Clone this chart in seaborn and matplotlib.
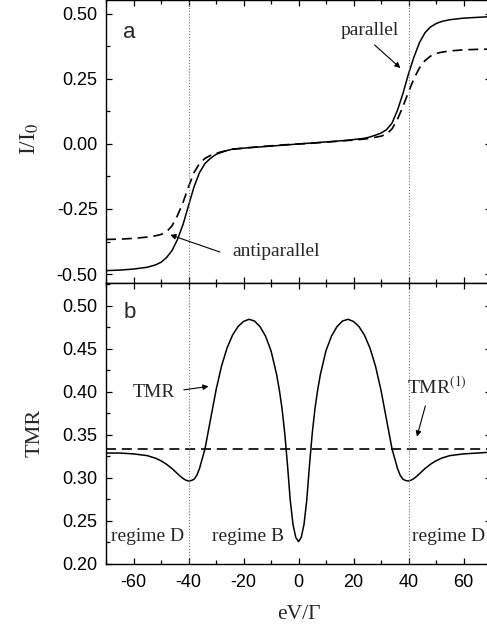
import matplotlib
matplotlib.use("Agg")
import matplotlib.pyplot as plt
from matplotlib.ticker import MultipleLocator, FormatStrFormatter
import seaborn as sns

# panel a: current vs bias
bias_iv = [-70, -65, -60, -55, -52, -50, -48, -46, -44, -42, -40, -38, -36, -34, -32, -30,
           -28, -26, -24, -20, -15, -10, -5, 0, 5, 10, 15, 20, 24, 26, 28, 30, 32, 34,
           36, 38, 40, 42, 44, 46, 48, 50, 52, 55, 60, 65, 70]
current_parallel = [-0.487, -0.485, -0.481, -0.474, -0.465, -0.455, -0.437, -0.41, -0.367,
                    -0.31, -0.237, -0.165, -0.11, -0.075, -0.055, -0.04, -0.032, -0.025,
                    -0.02, -0.016, -0.012, -0.008, -0.004, 0.0, 0.004, 0.008, 0.012, 0.017,
                    0.022, 0.027, 0.034, 0.042, 0.055, 0.08, 0.13, 0.195, 0.27, 0.335, 0.39,
                    0.428, 0.45, 0.463, 0.471, 0.478, 0.484, 0.487, 0.49]
current_antiparallel = [-0.367, -0.366, -0.363, -0.358, -0.353, -0.348, -0.338, -0.315,
                        -0.275, -0.225, -0.165, -0.11, -0.075, -0.055, -0.044, -0.036, -0.03,
                        -0.025, -0.02, -0.016, -0.011, -0.007, -0.003, 0.0, 0.003, 0.007,
                        0.011, 0.015, 0.019, 0.022, 0.026, 0.03, 0.038, 0.058, 0.095, 0.145,
                        0.2, 0.252, 0.293, 0.321, 0.338, 0.348, 0.353, 0.358, 0.362, 0.364,
                        0.365]

# panel b: TMR vs bias
bias_tmr = [-70, -65, -60, -55, -52, -50, -48, -46, -44, -43, -42, -41, -40, -39, -38, -37,
            -36, -34, -32, -30, -28, -26, -24, -22, -20, -18, -16, -14, -12, -10, -8, -7,
            -6, -5, -4, -3, -2, -1, 0, 1, 2, 3, 4, 5, 6, 7, 8, 10, 12, 14, 16, 18, 20, 22,
            24, 26, 28, 30, 32, 34, 36, 37, 38, 39, 40, 41, 42, 43, 44, 46, 48, 50, 52, 55,
            60, 65, 70]
tmr = [0.329, 0.329, 0.328, 0.326, 0.323, 0.320, 0.316, 0.311, 0.305, 0.302, 0.2995,
       0.2975, 0.2965, 0.297, 0.2985, 0.303, 0.311, 0.334, 0.368, 0.402, 0.430, 0.451,
       0.466, 0.476, 0.482, 0.4845, 0.4825, 0.476, 0.465, 0.448, 0.421, 0.403, 0.381,
       0.352, 0.315, 0.274, 0.246, 0.231, 0.226, 0.231, 0.246, 0.274, 0.315, 0.352, 0.381,
       0.403, 0.421, 0.448, 0.465, 0.476, 0.4825, 0.4845, 0.482, 0.476, 0.466, 0.451,
       0.430, 0.402, 0.368, 0.334, 0.311, 0.303, 0.2985, 0.297, 0.2965, 0.2975, 0.2995,
       0.302, 0.305, 0.311, 0.316, 0.320, 0.323, 0.326, 0.328, 0.329, 0.330]
tmr_first_order = 0.3333
regime_bounds = [-40, 40]

sns.set_style("ticks")
plt.rcParams["font.family"] = ["Liberation Sans", "DejaVu Sans"]
plt.rcParams["mathtext.fontset"] = "stix"
plt.rcParams["axes.unicode_minus"] = False
plt.rcParams["axes.linewidth"] = 1.0
plt.rcParams["axes.edgecolor"] = "black"
for ax_name in ("xtick", "ytick"):
    plt.rcParams[f"{ax_name}.direction"] = "in"
    plt.rcParams[f"{ax_name}.major.size"] = 4.5
    plt.rcParams[f"{ax_name}.minor.size"] = 3
    plt.rcParams[f"{ax_name}.major.width"] = 0.9
    plt.rcParams[f"{ax_name}.minor.width"] = 0.9
    plt.rcParams[f"{ax_name}.labelsize"] = 13
    plt.rcParams[f"{ax_name}.color"] = "black"

SERIF = ["Liberation Serif", "DejaVu Serif"]
W, H = 487, 626

fig = plt.figure(figsize=(W / 100, H / 100), dpi=100)
left, width = 106 / W, 385 / W
ax_a = fig.add_axes([left, (H - 283) / H, width, 283 / H])
ax_b = fig.add_axes([left, 62 / H, width, 281 / H])

dash = (0, (6, 3.5))
arrow = dict(arrowstyle="-|>", color="black", lw=0.8, mutation_scale=8)

# ---- panel a
sns.lineplot(x=bias_iv, y=current_parallel, ax=ax_a, color="black", lw=1.1)
sns.lineplot(x=bias_iv, y=current_antiparallel, ax=ax_a, color="black", lw=1.2,
             linestyle=dash)
ax_a.set_xlim(-70, 70)
ax_a.set_ylim(-0.5346, 0.5538)
ax_a.yaxis.set_major_locator(MultipleLocator(0.25))
ax_a.yaxis.set_minor_locator(MultipleLocator(0.125))
ax_a.yaxis.set_major_formatter(FormatStrFormatter("%.2f"))
ax_a.tick_params(labelbottom=False)
ax_a.text(-61.5, 0.427, "a", fontsize=16, ha="center", va="center")
ax_a.text(25.8, 0.438, "parallel", family=SERIF, fontsize=14, ha="center", va="center")
ax_a.annotate("", xy=(37.8, 0.285), xytext=(26.9, 0.388), arrowprops=arrow)
ax_a.text(-8, -0.415, "antiparallel", family=SERIF, fontsize=14, ha="center", va="center")
ax_a.annotate("", xy=(-47.6, -0.346), xytext=(-27.6, -0.419), arrowprops=arrow)
ax_a.text(-0.197, 0.51, "I/I$_0$", family=SERIF, fontsize=17, rotation=90,
          ha="center", va="center", transform=ax_a.transAxes)

# ---- panel b
sns.lineplot(x=bias_tmr, y=tmr, ax=ax_b, color="black", lw=1.1)
ax_b.axhline(tmr_first_order, color="black", lw=1.2, linestyle=dash)
ax_b.set_xlim(-70, 70)
ax_b.set_ylim(0.20, 0.5267)
ax_b.yaxis.set_major_locator(MultipleLocator(0.05))
ax_b.yaxis.set_minor_locator(MultipleLocator(0.025))
ax_b.yaxis.set_major_formatter(FormatStrFormatter("%.2f"))
ax_b.text(-61.5, 0.492, "b", fontsize=16, ha="center", va="center")
ax_b.text(-52.7, 0.399, "TMR", family=SERIF, fontsize=14, ha="center", va="center")
ax_b.annotate("", xy=(-31.7, 0.407), xytext=(-42.7, 0.402), arrowprops=arrow)
ax_b.text(39.6, 0.406, "TMR$^{\\rm (1)}$", family=SERIF, fontsize=14, ha="left", va="center")
ax_b.annotate("", xy=(42.8, 0.345), xytext=(46.4, 0.387), arrowprops=arrow)
for xpos, lab in [(-54.8, "regime D"), (-18.5, "regime B"), (54.5, "regime D")]:
    ax_b.text(xpos, 0.232, lab, family=SERIF, fontsize=14, ha="center", va="center")
ax_b.text(-0.184, 0.466, "TMR", family=SERIF, fontsize=16, rotation=90,
          ha="center", va="center", transform=ax_b.transAxes)
ax_b.text(0.5, -0.18, "eV/Γ", family=SERIF, fontsize=15.5,
          ha="center", va="center", transform=ax_b.transAxes)

for ax in (ax_a, ax_b):
    for xb in regime_bounds:
        ax.axvline(xb, color="0.45", lw=0.8, linestyle=(0, (1, 1.6)))
    ax.xaxis.set_major_locator(MultipleLocator(20))
    ax.xaxis.set_minor_locator(MultipleLocator(10))
    ax.tick_params(which="both", top=True, right=True)
    ax.tick_params(axis="y", pad=6)
    ax.tick_params(axis="x", pad=7)
    ax.set_xlabel("")
    ax.set_ylabel("")
    for s in ax.spines.values():
        s.set_visible(True)

fig.savefig("out.png", dpi=100)
